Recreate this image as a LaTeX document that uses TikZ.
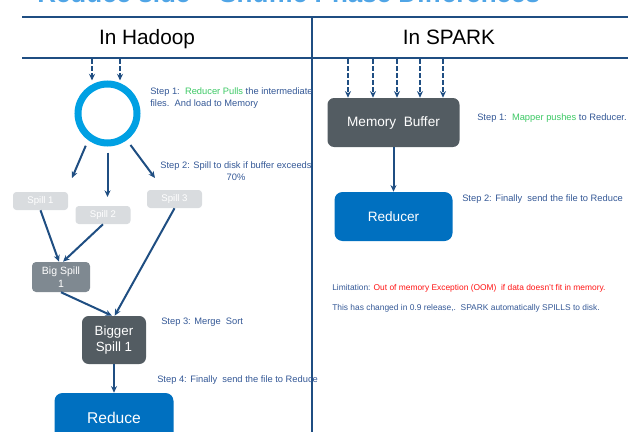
\documentclass[tikz,border=0pt]{standalone}
\usepackage{fontspec}
\setmainfont{Liberation Sans}
\usetikzlibrary{arrows.meta}
\definecolor{navy}{RGB}{31,78,130}
\definecolor{ringblue}{RGB}{0,160,227}
\definecolor{stepblue}{RGB}{52,88,150}
\definecolor{stepgreen}{RGB}{60,200,100}
\definecolor{oomred}{RGB}{255,20,20}
\definecolor{spilllight}{RGB}{217,220,223}
\definecolor{spillmid}{RGB}{127,137,145}
\definecolor{darkbox}{RGB}{83,92,98}
\definecolor{bluebox}{RGB}{0,112,192}
\definecolor{titleblue}{RGB}{80,165,230}
\tikzset{
  conn/.style={draw=navy, line width=1.5pt, -{Stealth[length=5pt,width=4.5pt]}},
  dashconn/.style={draw=navy, line width=1.5pt, dash pattern=on 3.5pt off 1.8pt, -{Stealth[length=5pt,width=4.5pt]}},
  rule/.style={draw=navy, line width=1.5pt},
  steptext/.style={text=stepblue, font=\fontsize{7pt}{8.4pt}\selectfont, inner sep=0pt, anchor=west},
  smalltext/.style={text=stepblue, font=\fontsize{6.3pt}{7.5pt}\selectfont, inner sep=0pt, anchor=west},
  header/.style={font=\fontsize{15.6pt}{18pt}\selectfont, inner sep=0pt, anchor=base},
  spillbox/.style={fill=spilllight, text=white, rounded corners=2.5pt, font=\fontsize{7.2pt}{8.5pt}\selectfont,
    minimum width=55*0.75pt, minimum height=18*0.75pt, inner sep=0pt},
  bigspillbox/.style={fill=spillmid, text=white, rounded corners=3pt, font=\fontsize{7.9pt}{9.5pt}\selectfont,
    minimum width=58*0.75pt, minimum height=30*0.75pt, inner sep=0pt, align=center},
  darkbox/.style={fill=darkbox, text=white, rounded corners=5pt, inner sep=0pt, align=center},
  bluebox/.style={fill=bluebox, text=white, rounded corners=6pt, inner sep=0pt},
}
\begin{document}
\begin{tikzpicture}[x=0.75pt, y=-0.75pt]
\useasboundingbox (0,0) rectangle (636,432);
% title, mostly cut off at top (as in the reference)
\node[text=titleblue, font=\fontsize{19.5pt}{22pt}\selectfont\bfseries, anchor=base west, inner sep=0pt] (title) at (37,2.5) {Reduce side – Shuffle Phase Differences};
% table rules
\coordinate (tl) at (22,17);
\coordinate (tr) at (628,17);
\coordinate (ml) at (22,58);
\coordinate (mr) at (628,58);
\coordinate (vt) at (312,17);
\coordinate (vb) at (312,432);
\draw[rule] (tl) -- (tr);
\draw[rule] (ml) -- (mr);
\draw[rule] (vt) -- (vb);
\node[header] (hh) at (147,45) {In Hadoop};
\node[header] (hs) at (449,45) {In SPARK};

% ---------- Hadoop side ----------
\node[circle, draw=ringblue, line width=7*0.75pt, minimum size=59*0.75pt, inner sep=0pt] (ring) at (107.5,113.5) {};
\coordinate (d1) at (92,59);
\coordinate (d2) at (120,59);
\draw[dashconn] (d1) -- (d1 |- ring.north);
\draw[dashconn] (d2) -- (d2 |- ring.north);

\node[steptext, align=left] (s1) at (150,98) {Step 1:\ \ \textcolor{stepgreen}{Reducer Pulls} the intermediate\\files.\ \ And load to Memory};

\coordinate (a1) at (72,178);
\coordinate (a2) at (107.5,197);
\coordinate (a3) at (155,178);
\draw[conn, shorten <=4.5pt] (ring.234) -- (a1);
\draw[conn, shorten <=4.5pt] (ring.south) -- (a2);
\draw[conn, shorten <=4.5pt] (ring.306) -- (a3);

\node[text=stepblue, font=\fontsize{7pt}{8.6pt}\selectfont, inner sep=0pt, align=center] (s2) at (236,171) {Step 2: Spill to disk if buffer exceeds\\70\%};

\node[spillbox] (sp1) at (40.5,201) {Spill 1};
\node[spillbox] (sp2) at (103,215) {Spill 2};
\node[spillbox] (sp3) at (174.5,199) {Spill 3};
\node[bigspillbox] (bs) at (61,277) {Big Spill\\1};
\node[darkbox, minimum width=64*0.75pt, minimum height=48*0.75pt, font=\fontsize{10pt}{12.5pt}\selectfont] (bg) at (114,340) {Bigger\\Spill\ 1};
\node[bluebox, minimum width=119*0.75pt, minimum height=50*0.75pt, font=\fontsize{11.7pt}{14pt}\selectfont] (red) at (114,418) {Reduce};

\draw[conn] (sp1.south) -- ([xshift=-1.5pt]bs.north);
\draw[conn] (sp2.south) -- ([xshift=1.5pt]bs.north);
\draw[conn] (bs.south) -- ([xshift=-1.5pt]bg.north);
\draw[conn] (sp3.south) -- ([xshift=0.5pt]bg.north);
\draw[conn] (bg.south) -- (red.north);

\node[steptext] (s3) at (161,322) {Step 3: Merge\ \ Sort};
\node[steptext] (s4) at (157,380) {Step 4: Finally\ \ send the file to Reduce};

% ---------- Spark side ----------
\node[darkbox, minimum width=132*0.75pt, minimum height=49*0.75pt, font=\fontsize{10.2pt}{12pt}\selectfont] (mb) at (393.5,122.5) {Memory\ \ Buffer};
\foreach \i/\x in {1/348,2/373,3/397,4/420,5/443}{
  \coordinate (r\i) at (\x,59);
  \draw[dashconn] (r\i) -- (r\i |- mb.north);
}
\node[steptext] (rs1) at (477,118) {Step 1:\ \ \textcolor{stepgreen}{Mapper pushes} to Reducer.};
\node[bluebox, minimum width=118*0.75pt, minimum height=49*0.75pt, font=\fontsize{10.2pt}{12pt}\selectfont] (rd) at (393.5,216.5) {Reducer};
\draw[conn] (mb.south) -- (rd.north);
\node[steptext] (rs2) at (462,199) {Step 2: Finally\ \ send the file to Reduce};
\node[smalltext] (lim) at (332,288) {Limitation: \textcolor{oomred}{Out of memory Exception (OOM)\ \ if data doesn't fit in memory.}};
\node[smalltext] (chg) at (332,308) {This has changed in 0.9 release,.\ \ SPARK automatically SPILLS to disk.};
\end{tikzpicture}
\end{document}
